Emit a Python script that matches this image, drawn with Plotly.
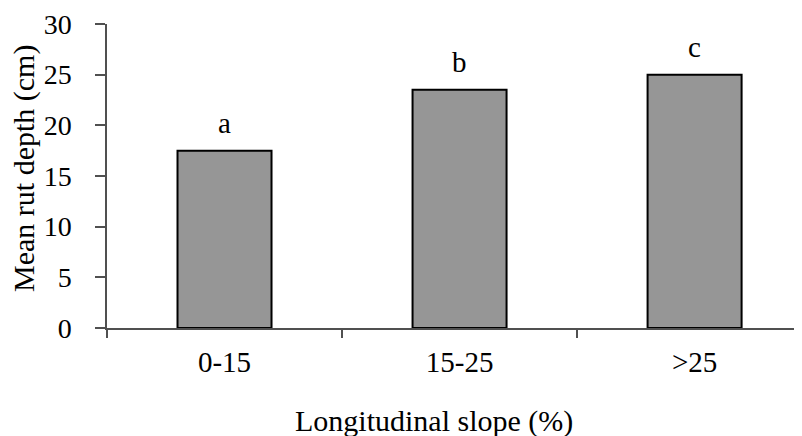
import plotly.graph_objects as go

categories = ["0-15", "15-25", ">25"]
mean_rut_depth = [17.5, 23.5, 25.0]
group_letters = ["a", "b", "c"]
y_ticks = [0, 5, 10, 15, 20, 25, 30]

FONT = "Liberation Serif, Times New Roman, serif"
AXIS_COLOR = "#505050"
FS_TICK = 29
FS_TITLE = 30

fig = go.Figure()
fig.add_trace(go.Bar(
    x=categories,
    y=mean_rut_depth,
    width=0.4,
    marker=dict(color="#969696", line=dict(color="#000000", width=2)),
    showlegend=False,
))

for cat, val, lab in zip(categories, mean_rut_depth, group_letters):
    fig.add_annotation(x=cat, y=val, text=lab, showarrow=False,
                       yanchor="middle", yshift=28,
                       font=dict(family=FONT, size=FS_TICK, color="#000000"))

# axis titles (placed as paper annotations to match the original offsets)
fig.add_annotation(xref="paper", yref="paper", x=0.5, y=0, xshift=-21, yshift=-93,
                   xanchor="center", yanchor="middle", showarrow=False,
                   text="Longitudinal slope (%)",
                   font=dict(family=FONT, size=FS_TITLE, color="#000000"))
fig.add_annotation(xref="paper", yref="paper", x=0, y=0.5, xshift=-83, yshift=7,
                   xanchor="center", yanchor="middle", showarrow=False, textangle=-90,
                   text="Mean rut depth (cm)",
                   font=dict(family=FONT, size=FS_TITLE, color="#000000"))

fig.update_layout(
    width=802, height=436,
    margin=dict(l=99, r=8, t=16, b=116),
    plot_bgcolor="white", paper_bgcolor="white",
    font=dict(family=FONT, size=FS_TICK, color="#000000"),
)
fig.update_xaxes(
    type="category",
    range=[-0.5, 2.457],
    automargin=False,
    showline=True, linecolor=AXIS_COLOR, linewidth=1.5,
    ticks="outside", tickson="boundaries", ticklen=8, tickcolor=AXIS_COLOR, tickwidth=1.5,
    ticklabelstandoff=7,
    showgrid=False, zeroline=False,
    tickfont=dict(family=FONT, size=FS_TICK),
)
fig.update_yaxes(
    range=[0, 30],
    tickvals=y_ticks,
    automargin=False,
    showline=True, linecolor=AXIS_COLOR, linewidth=1.5,
    ticks="outside", ticklen=10, tickcolor=AXIS_COLOR, tickwidth=1.5,
    ticklabelstandoff=18,
    showgrid=False, zeroline=False,
    tickfont=dict(family=FONT, size=28),
)

fig.write_html("out.html")
